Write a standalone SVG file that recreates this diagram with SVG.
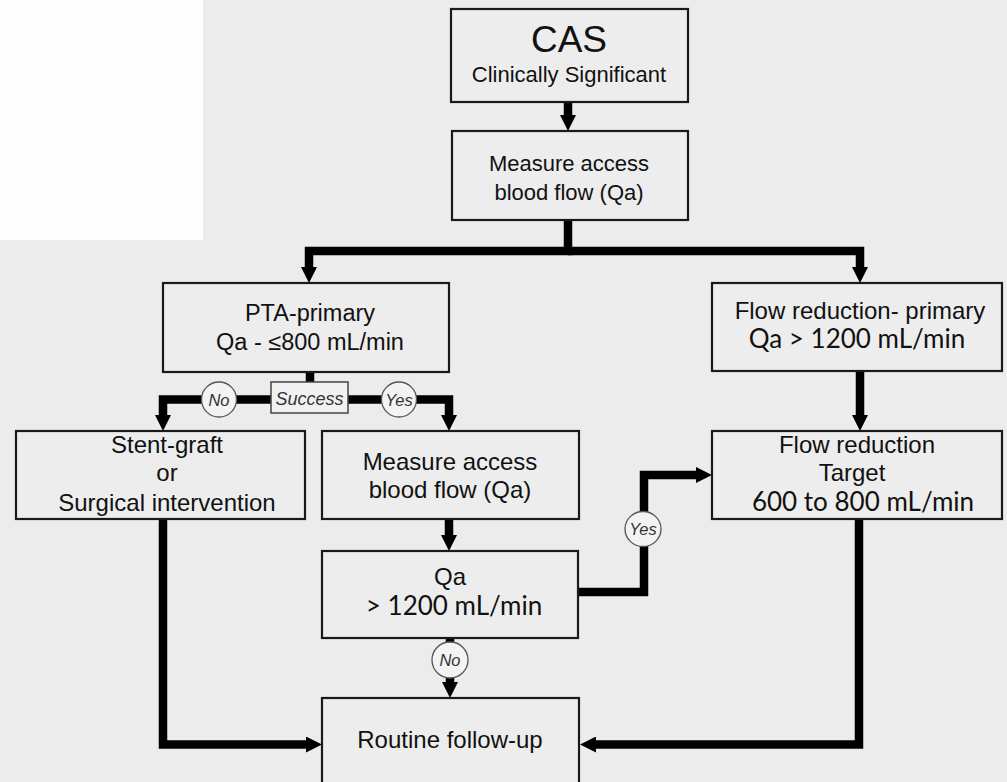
<svg xmlns="http://www.w3.org/2000/svg" width="1007" height="782" viewBox="0 0 1007 782">
<style>
.box{fill:#ededed;stroke:#1a1a1a;stroke-width:2.2}
.t{font-family:"Liberation Sans",Arial,sans-serif;fill:#111;text-anchor:middle}
.c{font-family:Lato,"Liberation Sans",sans-serif;fill:#111;text-anchor:middle;font-size:26px}
.lbl{font-family:"Liberation Sans",Arial,sans-serif;font-style:italic;fill:#333;text-anchor:middle;font-size:16.5px}
.con{fill:none;stroke:#000;stroke-width:8.5;stroke-linejoin:miter}
.circ{fill:#f3f3f3;stroke:#555;stroke-width:1.3}
</style>
<defs>
<marker id="ah" viewBox="0 0 16 16" refX="3" refY="8" markerWidth="16" markerHeight="16" markerUnits="userSpaceOnUse" orient="auto">
<path d="M0,0 L16,8 L0,16 z" fill="#000"/>
</marker>
</defs>
<rect x="0" y="0" width="1007" height="782" fill="#ececec"/>
<rect x="0" y="0" width="203" height="240" fill="#fefefe"/>

<g id="connectors">
<path class="con" d="M568,102 V118" marker-end="url(#ah)"/>
<path class="con" d="M568,220 V251 H309 V270" marker-end="url(#ah)"/>
<path class="con" d="M568,251 H860 V270" marker-end="url(#ah)"/>
<path class="con" d="M860,371 V418" marker-end="url(#ah)"/>
<path class="con" d="M310,372 V383"/>
<path class="con" d="M272,399.5 H163 V418" marker-end="url(#ah)"/>
<path class="con" d="M347,399.5 H449 V418" marker-end="url(#ah)"/>
<path class="con" d="M449,519 V538" marker-end="url(#ah)"/>
<path class="con" d="M450,638 V685" marker-end="url(#ah)"/>
<path class="con" d="M578,592 H644 V475 H699" marker-end="url(#ah)"/>
<path class="con" d="M163,519 V744.5 H309" marker-end="url(#ah)"/>
<path class="con" d="M859,519 V744.5 H593" marker-end="url(#ah)"/>
</g>

<g id="label-success">
<rect x="271" y="382" width="77" height="31" fill="#f1f1f1" stroke="#444" stroke-width="1.5"/>
<text class="lbl" x="309.5" y="405" style="font-size:18px">Success</text>
</g>
<g id="label-no1">
<circle class="circ" cx="219" cy="399.5" r="17.5"/>
<text class="lbl" x="219" y="405.5">No</text>
</g>
<g id="label-yes1">
<circle class="circ" cx="399" cy="399.5" r="17.5"/>
<text class="lbl" x="399" y="405.5">Yes</text>
</g>
<g id="label-yes2">
<ellipse class="circ" cx="643" cy="529" rx="18" ry="17.5"/>
<text class="lbl" x="643" y="535">Yes</text>
</g>
<g id="label-no2">
<circle class="circ" cx="450" cy="660" r="18"/>
<text class="lbl" x="450" y="666">No</text>
</g>

<g id="cas">
<rect class="box" x="451" y="9" width="237" height="93"/>
<text class="t" x="569" y="52" style="font-size:37px">CAS</text>
<text class="t" x="569" y="82" style="font-size:22px">Clinically Significant</text>
</g>
<g id="measure1">
<rect class="box" x="452" y="131" width="236" height="89"/>
<text class="t" x="569" y="171" style="font-size:22px">Measure access</text>
<text class="t" x="569" y="200" style="font-size:22px">blood flow (Qa)</text>
</g>
<g id="pta">
<rect class="box" x="163" y="283" width="286" height="89"/>
<text class="t" x="310" y="321" style="font-size:23.5px">PTA-primary</text>
<text class="t" x="310" y="350" style="font-size:23.5px">Qa - ≤800 mL/min</text>
</g>
<g id="flowprimary">
<rect class="box" x="712" y="283" width="290" height="88"/>
<text class="t" x="860" y="319" style="font-size:24px">Flow reduction- primary</text>
<text class="c" x="857" y="348">Qa &gt; 1200 mL/min</text>
</g>
<g id="stent">
<rect class="box" x="16" y="431" width="289" height="88"/>
<text class="t" x="167" y="453" style="font-size:24px">Stent-graft</text>
<text class="t" x="167" y="481" style="font-size:24px">or</text>
<text class="t" x="167" y="511" style="font-size:24px">Surgical intervention</text>
</g>
<g id="measure2">
<rect class="box" x="322" y="431" width="257" height="88"/>
<text class="t" x="450" y="470" style="font-size:24px">Measure access</text>
<text class="t" x="450" y="498" style="font-size:24px">blood flow (Qa)</text>
</g>
<g id="target">
<rect class="box" x="712" y="431" width="290" height="88"/>
<text class="t" x="857" y="453" style="font-size:24px">Flow reduction</text>
<text class="t" x="852" y="481" style="font-size:24px">Target</text>
<text class="c" x="863" y="511">600 to 800 mL/min</text>
</g>
<g id="qa">
<rect class="box" x="322" y="551" width="256" height="87"/>
<text class="t" x="450" y="585" style="font-size:24px">Qa</text>
<text class="c" x="454" y="615">&gt; 1200 mL/min</text>
</g>
<g id="routine">
<rect class="box" x="322" y="698" width="257" height="100"/>
<text class="t" x="450" y="748" style="font-size:24px">Routine follow-up</text>
</g>
</svg>
